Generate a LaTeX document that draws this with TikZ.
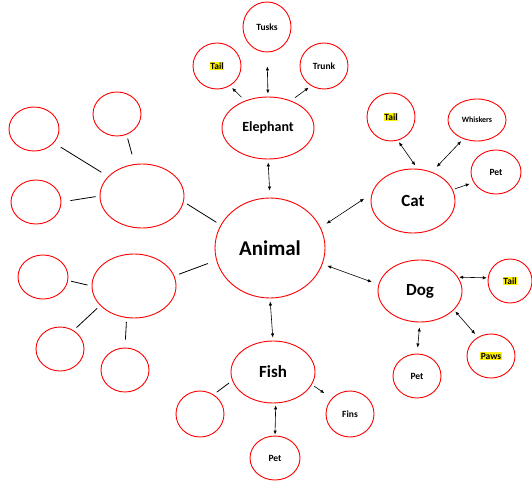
\documentclass[tikz,border=0pt]{standalone}
\usepackage{fontspec}
\setmainfont{Carlito}
\usetikzlibrary{shapes.geometric,arrows.meta}
\newcommand\hlt[1]{{\setlength{\fboxsep}{0.6pt}\colorbox{yellow}{#1}}}

\begin{document}
\begin{tikzpicture}[x=1pt,y=-1pt,
  bub/.style={draw=red,ellipse,line width=0.9pt,inner sep=0pt,font=\bfseries\fontsize{9.5}{11}\selectfont},
  mid/.style={font=\bfseries\fontsize{17}{20}\selectfont},
  tip/.style={Latex[length=4pt,width=3.4pt]},
  dbl/.style={{Latex[length=4pt,width=3.4pt]}-{Latex[length=4pt,width=3.4pt]},line width=0.6pt},
  sgl/.style={-{Latex[length=4pt,width=3.4pt]},line width=0.6pt},
  ln/.style={line width=0.8pt}]
\useasboundingbox (0,0) rectangle (532,481);
\def\bb#1#2#3#4#5{\node[bub,minimum width=#3pt,minimum height=#4pt] (#1) at (#2) {#5};}

% centre
\node[bub,minimum width=110pt,minimum height=100pt,font=\bfseries\fontsize{21}{24}\selectfont] (animal) at (270,248) {Animal};

% elephant
\node[bub,minimum width=92pt,minimum height=62pt,font=\bfseries\fontsize{14}{17}\selectfont] (eleph) at (268,128) {Elephant};
\bb{tusks}{267,27}{48}{50}{Tusks}
\bb{etail}{217,66}{48}{46}{\hlt{Tail}}
\bb{trunk}{324,66}{48}{46}{Trunk}

% cat
\node[bub,mid,minimum width=84pt,minimum height=64pt] (cat) at (413,201) {Cat};
\bb{ctail}{391,117}{48}{48}{\hlt{Tail}}
\node[bub,minimum width=58pt,minimum height=42pt,font=\bfseries\fontsize{8}{10}\selectfont] (whisk) at (477,120) {Whiskers};
\bb{cpet}{496,172}{50}{44}{Pet}

% dog
\node[bub,mid,minimum width=84pt,minimum height=62pt] (dog) at (420,291) {Dog};
\bb{dtail}{510,281}{44}{44}{\hlt{Tail}}
\bb{paws}{491,356}{48}{44}{\hlt{Paws}}
\bb{dpet}{417,376}{48}{44}{Pet}

% fish
\node[bub,mid,minimum width=84pt,minimum height=62pt] (fish) at (273,372) {Fish};
\bb{fempty}{200,414}{48}{46}{}
\bb{fins}{350,414}{48}{46}{Fins}
\bb{fpet}{275,458}{50}{44}{Pet}

% empty ones on the left
\bb{bigu}{142,196}{84}{64}{}
\bb{us1}{117,114}{48}{44}{}
\bb{us2}{34,129}{50}{44}{}
\bb{us3}{36,202}{50}{44}{}
\bb{bigl}{134,286}{84}{64}{}
\bb{ls1}{43,277}{50}{44}{}
\bb{ls2}{60,349}{48}{44}{}
\bb{ls3}{125,370}{48}{44}{}

\draw[dbl,shorten <=7pt,shorten >=3pt] (animal.north) -- (eleph.south);
\draw[dbl,shorten <=3pt,shorten >=14pt] (eleph.north) -- (tusks.south);
\draw[sgl,shorten <=5pt,shorten >=3pt] (eleph.130) -- (etail.-57);
\draw[sgl,shorten <=5pt,shorten >=3pt] (eleph.50) -- (trunk.-123);

\draw[dbl,shorten <=7pt,shorten >=9pt] (animal.22) -- (cat.170);
\draw[dbl,shorten <=4pt,shorten >=2pt] (cat.82) -- (ctail.-74);
\draw[dbl,shorten <=7pt,shorten >=3pt] (cat.57) -- (whisk.-126);
\draw[sgl,shorten <=2pt,shorten >=4pt] (cat.16) -- (cpet.205);

\draw[dbl,shorten <=5pt,shorten >=7pt] (animal.-17) -- (dog.171);
\draw[dbl,shorten <=1pt,shorten >=1pt] (dog.20) -- (dtail.172);
\draw[dbl,shorten <=2pt,shorten >=4pt] (dog.-29) -- (paws.125);
\draw[dbl,shorten <=5pt,shorten >=6pt] (dog.south) -- (dpet.north);

\draw[dbl,shorten <=3pt,shorten >=3pt] (animal.south) -- (fish.north);
\draw[dbl,shorten <=2pt,shorten >=1pt] (fish.-85) -- (fpet.north);
\draw[sgl,shorten <=3pt,shorten >=9pt] (fish.-18) -- (fins.139);
\draw[ln,shorten <=4pt,shorten >=4pt] (fish.192) -- (fempty.55);

\draw[ln,shorten <=5pt,shorten >=4pt] (animal.155) -- (bigu.-8);
\draw[ln,shorten <=9pt,shorten >=5pt] (animal.193) -- (bigl.14);
\draw[ln,shorten <=10pt,shorten >=4pt] (bigu.103) -- (us1.-65);
\draw[ln,shorten <=8pt,shorten >=8pt] (bigu.150) -- (us2.-35);
\draw[ln,shorten <=4pt,shorten >=9pt] (bigu.180) -- (us3.east);
\draw[ln,shorten <=4pt,shorten >=3pt] (bigl.180) -- (ls1.-8);
\draw[ln,shorten <=4pt,shorten >=4pt] (bigl.210) -- (ls2.54);
\draw[ln,shorten <=4pt,shorten >=8pt] (bigl.257) -- (ls3.north);
\end{tikzpicture}
\end{document}
